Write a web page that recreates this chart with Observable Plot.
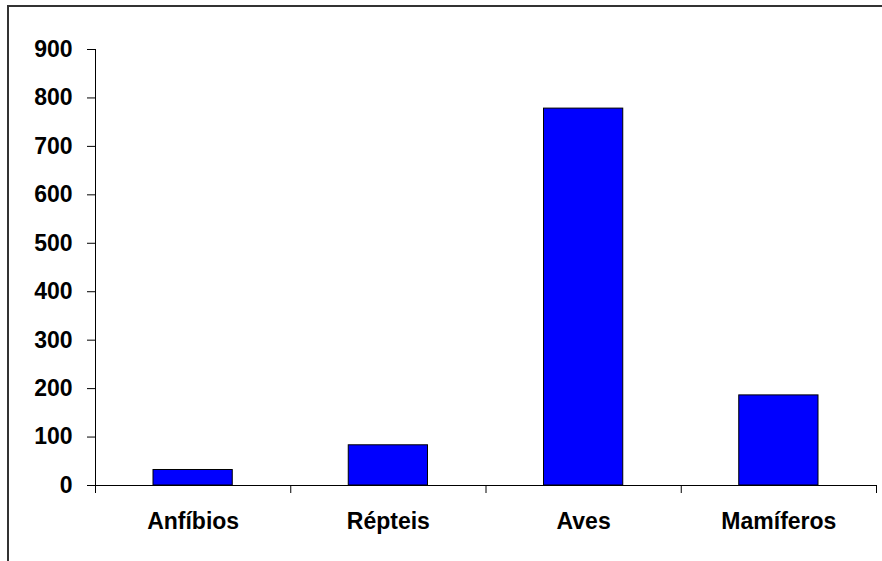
<!DOCTYPE html>
<html>
<head>
<meta charset="utf-8">
<script src="https://cdn.jsdelivr.net/npm/d3@7"></script>
<script src="https://cdn.jsdelivr.net/npm/@observablehq/plot@0.6"></script>
<style>
  html, body { margin: 0; padding: 0; background: #fff; overflow: hidden; }
  #wrap { position: relative; width: 882px; height: 561px; }
  #chart { position: absolute; left: 0; top: 0; }
  #border { position: absolute; left: 7px; top: 5px; width: 900px; height: 600px;
            border-top: 2px solid #333; border-left: 2px solid #333; pointer-events: none; }
</style>
</head>
<body>
<div id="wrap"><div id="chart"></div><div id="border"></div></div>
<script>
const categories = ["Anfíbios", "Répteis", "Aves", "Mamíferos"];
const values = [32, 83, 778, 186];
const yTicks = [0, 100, 200, 300, 400, 500, 600, 700, 800, 900];

const data = categories.map((c, i) => ({ cat: c, i: i, v: values[i] }));
const centers = categories.map((c, i) => i + 0.5);
const bounds = d3.range(categories.length + 1);

const chart = Plot.plot({
  width: 882,
  height: 561,
  marginLeft: 95,
  marginRight: 6,
  marginTop: 49,
  marginBottom: 76,
  style: {
    fontFamily: "'Liberation Sans', Arial, sans-serif",
    fontSize: "23px",
    fontWeight: "bold",
    color: "black",
    background: "transparent"
  },
  x: { type: "linear", domain: [0, categories.length] },
  y: { domain: [0, 900] },
  marks: [
    Plot.rectY(data, {
      x1: d => d.i, x2: d => d.i + 1, y: "v",
      insetLeft: 58, insetRight: 58,
      fill: "#0000ff", stroke: "black", strokeWidth: 1
    }),
    Plot.ruleX([0], { y1: 0, y2: 900, stroke: "black" }),
    Plot.ruleY([0], { stroke: "black" }),
    Plot.axisY({ ticks: yTicks, tickSize: 8, tickPadding: 15, tickFormat: d => String(d), label: null }),
    Plot.axisX({ ticks: bounds, tickSize: 8, tickFormat: () => "", label: null }),
    Plot.axisX({ ticks: centers, tickSize: 0, tickPadding: 27,
                 tickFormat: d => categories[Math.floor(d)], label: null })
  ]
});
document.getElementById("chart").appendChild(chart);
</script>
</body>
</html>
